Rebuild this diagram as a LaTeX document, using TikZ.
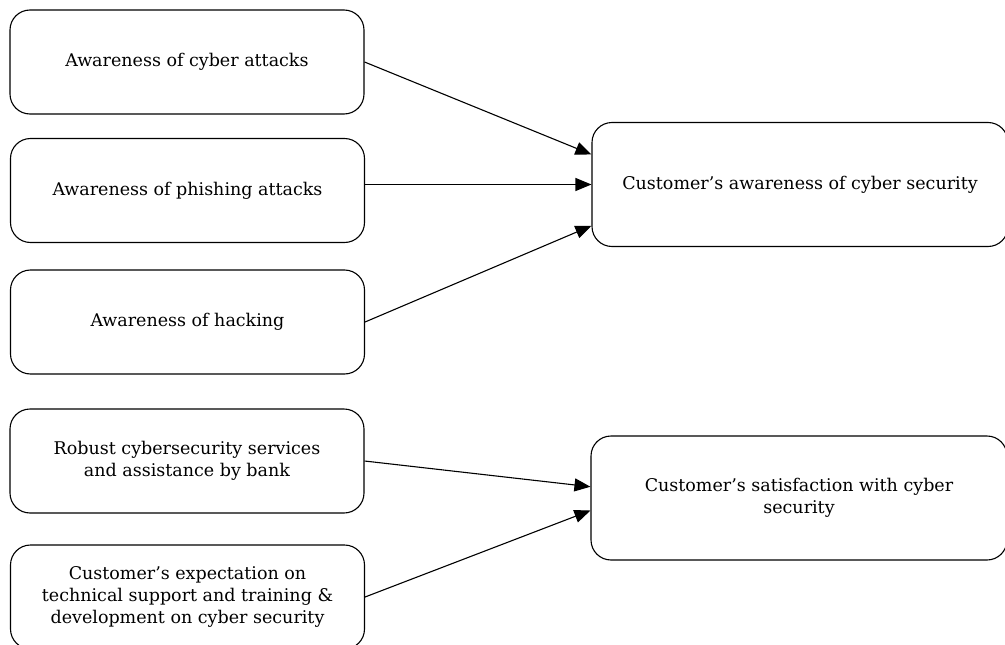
\documentclass[tikz,border=0pt]{standalone}
\usepackage{fontspec}
\setmainfont{DejaVu Serif}
\usetikzlibrary{calc, arrows.meta, positioning}

\begin{document}
\begin{tikzpicture}[x=1pt, y=-1pt, >={Triangle[length=16pt,width=13pt]},
  cause/.style={draw, line width=1.1pt, rounded corners=20pt, minimum width=354pt,
    minimum height=104pt, align=center, font=\fontsize{17.5}{22}\selectfont},
  effect/.style={draw, line width=1.1pt, rounded corners=20pt, minimum width=416pt,
    minimum height=124pt, align=center, font=\fontsize{17.5}{22}\selectfont},
  link/.style={->, line width=1.1pt}]
  \useasboundingbox (0,0) rectangle (1005,645);
  % Factors
  \node[cause] (cyber) at (187,62) {Awareness of cyber attacks};
  \node[cause] (phish) at (187.5,190.5) {Awareness of phishing attacks};
  \node[cause] (hack) at (187.5,322) {Awareness of hacking};
  \node[cause] (robust) at (187,461) {Robust cybersecurity services\\and assistance by bank};
  \node[cause] (expect) at (187.5,597) {Customer's expectation on\\technical support and training \&\\development on cyber security};
  % Outcomes
  \node[effect] (aware) at (800,184.5) {Customer's awareness of cyber security};
  \node[effect] (satis) at (799,498) {Customer's satisfaction with cyber\\security};
  % Links
  \draw[link] (cyber.east) -- ($(aware.north west)!0.26!(aware.south west)$);
  \draw[link] (phish.east |- aware.west) -- (aware.west);
  \draw[link] (hack.east) -- ($(aware.north west)!0.83!(aware.south west)$);
  \draw[link] (robust.east) -- ($(satis.north west)!0.41!(satis.south west)$);
  \draw[link] (expect.east) -- ($(satis.north west)!0.6!(satis.south west)$);
\end{tikzpicture}
\end{document}
